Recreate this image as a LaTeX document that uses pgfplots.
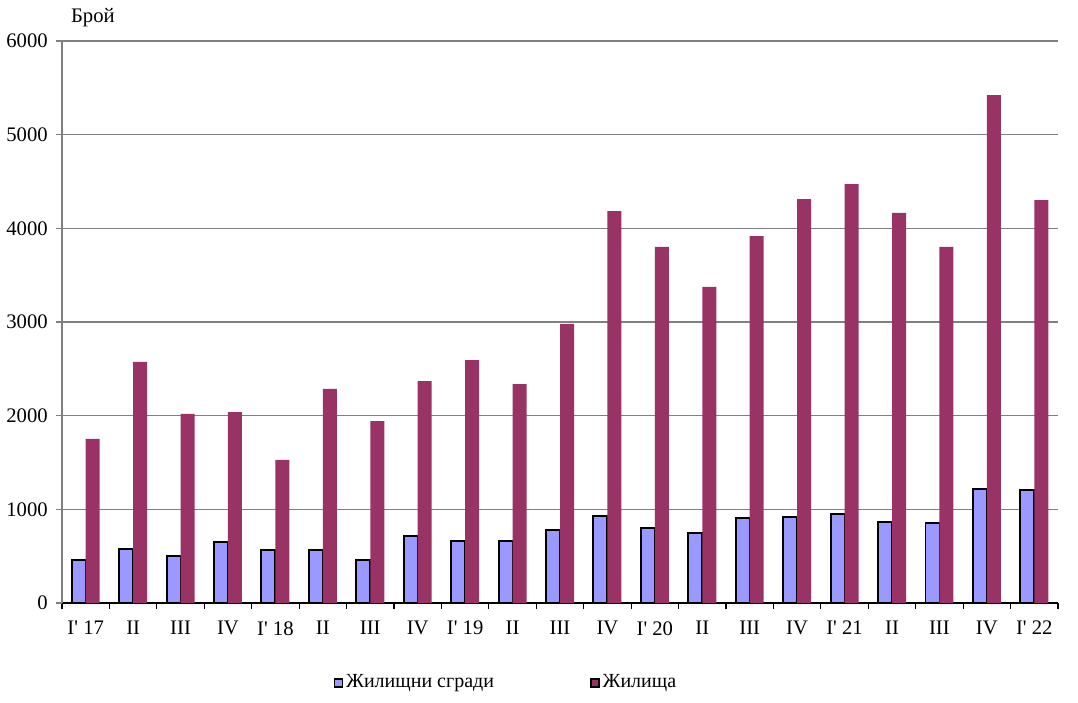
\documentclass[border=0pt]{standalone}
\usepackage{fontspec}
\setmainfont{Liberation Serif}
\usepackage{pgfplots}
\pgfplotsset{compat=1.18}
\definecolor{cblue}{HTML}{9999FF}
\definecolor{cmar}{HTML}{993366}
\newcommand{\q}{\textquotesingle}
\begin{document}
\fontsize{15pt}{18pt}\selectfont
\begin{tikzpicture}
\path[use as bounding box] (-46.5pt,-75pt) rectangle (762pt,452.25pt);
\begin{axis}[
  at={(0,0)}, anchor=south west, scale only axis,
  width=747pt, height=421.5pt,
  ymin=0, ymax=6000, ytick={0,1000,...,6000},
  xmin=-0.5, xmax=20.5,
  ybar=0pt, bar width=10.5pt,
  axis x line=bottom, axis y line=left,
  x axis line style={black,-,line width=0.8pt},
  y axis line style={gray,-,line width=0.8pt},
  ymajorgrids, grid style={gray,line width=0.8pt},
  xtick={-0.5,0.5,...,20.5},
  x tick label as interval,
  xticklabels={I\q{} 17,II,III,IV,I\q{} 18,II,III,IV,I\q{} 19,II,III,IV,I\q{} 20,II,III,IV,I\q{} 21,II,III,IV,I\q{} 22},
  tick align=outside,
  major tick length=4.5pt,
  x tick style={black,line width=0.8pt},
  y tick style={gray,line width=0.8pt},
  xticklabel style={font=\fontsize{15.5pt}{18pt}\selectfont, yshift=-4pt},
  yticklabel style={font=\fontsize{15.5pt}{18pt}\selectfont, xshift=-1pt},
  /pgf/number format/assume math mode=true,
  scaled y ticks=false,
  yticklabel={\pgfmathprintnumber[fixed,1000 sep={}]{\tick}},
  legend style={at={(0.446,-0.142)}, anchor=center, draw=none,
    font=\fontsize{15pt}{18pt}\selectfont, legend columns=2,
    /tikz/every even column/.append style={column sep=70pt}},
  legend image code/.code={\draw[#1,line width=1.4pt] (0pt,-3pt) rectangle (6pt,3pt);},
  clip=false,
]
\addplot[fill=cblue, draw=black, line width=1.4pt] coordinates {
(0,459) (1,576) (2,502) (3,651) (4,566) (5,566) (6,459) (7,715)
(8,662) (9,662) (10,780) (11,929) (12,801) (13,751) (14,904) (15,921)
(16,953) (17,868) (18,857) (19,1220) (20,1210)};
\addlegendentry{Жилищни сгради}
\addplot[fill=cmar, draw=none] coordinates {
(0,1751) (1,2573) (2,2018) (3,2039) (4,1527) (5,2285) (6,1943) (7,2370)
(8,2594) (9,2338) (10,2979) (11,4185) (12,3801) (13,3374) (14,3918) (15,4313)
(16,4473) (17,4164) (18,3801) (19,5423) (20,4302)};
\addlegendentry{Жилища}
\node[anchor=center,font=\fontsize{15.5pt}{18pt}\selectfont] at (rel axis cs:0.031,1.041) {Брой};
\end{axis}
\end{tikzpicture}
\end{document}
